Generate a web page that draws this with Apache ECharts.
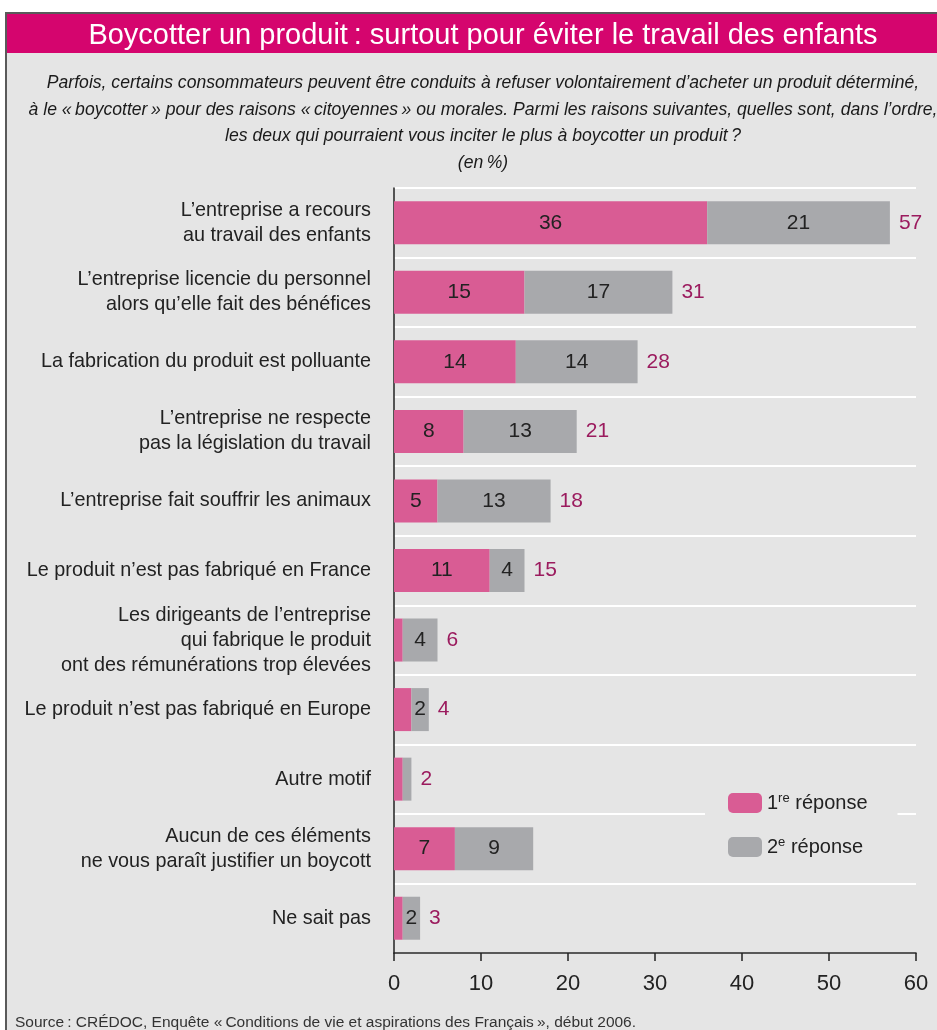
<!DOCTYPE html>
<html>
<head>
<meta charset="utf-8">
<script src="https://cdn.jsdelivr.net/npm/echarts@6/dist/echarts.min.js"></script>
<style>
  html, body { margin: 0; padding: 0; background: #fff; }
  #chart { width: 937px; height: 1030px; }
</style>
</head>
<body>
<div id="chart"></div>
<script>
const categories = [
  'L\u2019entreprise a recours\nau travail des enfants',
  'L\u2019entreprise licencie du personnel\nalors qu\u2019elle fait des bénéfices',
  'La fabrication du produit est polluante',
  'L\u2019entreprise ne respecte\npas la législation du travail',
  'L\u2019entreprise fait souffrir les animaux',
  'Le produit n\u2019est pas fabriqué en France',
  'Les dirigeants de l\u2019entreprise\nqui fabrique le produit\nont des rémunérations trop élevées',
  'Le produit n\u2019est pas fabriqué en Europe',
  'Autre motif',
  'Aucun de ces éléments\nne vous paraît justifier un boycott',
  'Ne sait pas'
];
const firstAnswer = [36, 15, 14, 8, 5, 11, 1, 2, 1, 7, 1];
const secondAnswer = [21, 17, 14, 13, 13, 4, 4, 2, 1, 9, 2];
const totals = [57, 31, 28, 21, 18, 15, 6, 4, 2, null, 3];
const xTicks = [0, 10, 20, 30, 40, 50, 60];

const FONT = '"Liberation Sans", Arial, sans-serif';
const PINK = '#d95c94';
const GREY = '#a8a9ac';
const BG = '#e5e5e5';

const chart = echarts.init(document.getElementById('chart'));

chart.setOption({
  animation: false,
  textStyle: { fontFamily: FONT },
  graphic: [
    {
      type: 'rect',
      z: -10,
      shape: { x: 6, y: 13, width: 940, height: 1030 },
      style: { fill: BG, stroke: '#5a5a5a', lineWidth: 2 }
    },
    {
      type: 'rect',
      z: -9,
      shape: { x: 7, y: 14, width: 935, height: 39 },
      style: { fill: '#d5056e' }
    }
  ],
  title: [
    {
      text: 'Boycotter un produit\u202F: surtout pour éviter le travail des enfants',
      left: 478,
      top: 16,
      textAlign: 'center',
      textStyle: { color: '#fff', fontSize: 29, fontWeight: 'normal', fontFamily: FONT }
    },
    {
      text: 'Parfois, certains consommateurs peuvent être conduits à refuser volontairement d\u2019acheter un produit déterminé,\n' +
        'à le «\u202Fboycotter\u202F» pour des raisons «\u202Fcitoyennes\u202F» ou morales. Parmi les raisons suivantes, quelles sont, dans l\u2019ordre,\n' +
        'les deux qui pourraient vous inciter le plus à boycotter un produit\u202F?\n(en\u202F%)',
      left: 478,
      top: 65,
      textAlign: 'center',
      textStyle: {
        color: '#1a1a1a', fontSize: 17.6, fontStyle: 'italic', fontWeight: 'normal',
        lineHeight: 26.5, fontFamily: FONT, align: 'center'
      }
    },
    {
      text: 'Source\u202F: CRÉDOC, Enquête «\u202FConditions de vie et aspirations des Français\u202F», début 2006.',
      left: 10,
      top: 1010,
      textStyle: { color: '#333', fontSize: 15.5, fontWeight: 'normal', fontFamily: FONT }
    }
  ],
  legend: {
    data: ['1re réponse', '2e réponse'],
    orient: 'vertical',
    left: 705,
    top: 781,
    padding: [11, 30, 11, 23],
    backgroundColor: BG,
    itemWidth: 34,
    itemHeight: 20,
    itemGap: 23,
    formatter: name => name === '1re réponse' ? '1{s|re} réponse' : '2{s|e} réponse',
    textStyle: {
      fontSize: 20, color: '#222', fontFamily: FONT,
      rich: { s: { fontSize: 13, color: '#222', fontFamily: FONT, padding: [0, 0, 9, 0] } }
    }
  },
  grid: { left: 394, right: 21, top: 188, bottom: 77 },
  xAxis: {
    type: 'value',
    min: 0,
    max: 60,
    interval: 10,
    axisLine: { show: true, lineStyle: { color: '#222', width: 1.5 } },
    axisTick: { show: true, length: 8, lineStyle: { color: '#222', width: 1.5 } },
    splitLine: { show: false },
    axisLabel: {
      fontSize: 22, color: '#222', margin: 20, fontFamily: FONT,
      formatter: v => xTicks.includes(v) ? String(v) : ''
    }
  },
  yAxis: {
    type: 'category',
    inverse: true,
    data: categories,
    axisLine: { show: true, lineStyle: { color: '#222', width: 1.5 } },
    axisTick: { show: false },
    splitLine: { show: true, lineStyle: { color: '#fff', width: 2 } },
    axisLabel: { fontSize: 19.8, color: '#222', margin: 23, lineHeight: 25, align: 'right', fontFamily: FONT }
  },
  series: [
    {
      name: '1re réponse',
      type: 'bar',
      stack: 'all',
      barWidth: 43,
      data: firstAnswer,
      itemStyle: { color: PINK },
      label: {
        show: true, position: 'inside', fontSize: 21, color: '#222', fontFamily: FONT,
        formatter: p => p.value >= 3 ? p.value : ''
      }
    },
    {
      name: '2e réponse',
      type: 'bar',
      stack: 'all',
      barWidth: 43,
      data: secondAnswer,
      itemStyle: { color: GREY },
      label: {
        show: true, position: 'inside', fontSize: 21, color: '#222', fontFamily: FONT,
        formatter: p => p.value >= 2 ? p.value : ''
      }
    },
    {
      name: 'total',
      type: 'bar',
      stack: 'all',
      barWidth: 43,
      silent: true,
      data: totals.map(() => 0),
      itemStyle: { color: 'transparent' },
      label: {
        show: true, position: 'right', distance: 9, fontSize: 21, color: '#9b1b5e', fontFamily: FONT,
        formatter: p => totals[p.dataIndex] == null ? '' : String(totals[p.dataIndex])
      }
    }
  ]
});
</script>
</body>
</html>
